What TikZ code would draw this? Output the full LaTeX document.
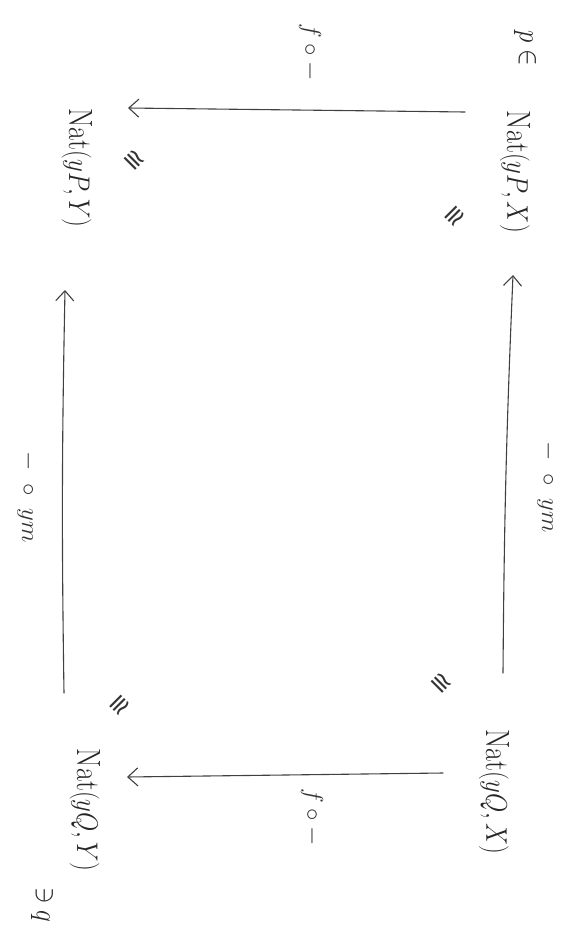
\documentclass[tikz,border=0pt]{standalone}
\usepackage{fontspec}
\usetikzlibrary{arrows.meta,calc}
\newfontfamily\symfont{DejaVu Sans}
\newcommand{\tallmath}[1]{\scalebox{1}[1.2]{$#1$}}
\begin{document}
\begin{tikzpicture}[x=1pt,y=-1pt,
  obj/.style={rotate=-90, inner sep=0pt, font=\fontsize{28}{30}\selectfont, text=black!85},
  lbl/.style={rotate=-90, inner sep=0pt, font=\fontsize{24}{26}\selectfont, text=black!80},
  iso/.style={inner sep=0pt, font=\symfont\fontsize{26}{28}\selectfont, text=black!80},
  arr/.style={draw=black!75, line width=1.1pt, line cap=round,
    -{Straight Barb[length=10pt,width=18pt,line width=1.1pt]}}]
\path[use as bounding box] (0,0) rectangle (571,942);

% the four hom-sets
\node[obj] (PX) at (515,172) {\tallmath{\mathrm{Nat}(yP,X)}};
\node[obj] (QX) at (494,792) {\tallmath{\mathrm{Nat}(yQ,X)}};
\node[obj] (PY) at (77,168)  {\tallmath{\mathrm{Nat}(yP,Y)}};
\node[obj] (QY) at (85,810)  {\tallmath{\mathrm{Nat}(yQ,Y)}};

% elements
\node[obj] (p) at (525,48) {\tallmath{p\in}};
\node[obj] (q) at (42,905) {\tallmath{\ni q}};

% isomorphism marks
\node[iso, rotate=-135] (isoPX) at (454,216) {≅};
\node[iso, rotate=-45]  (isoQX) at (441,684) {≅};
\node[iso, rotate=-45]  (isoPY) at (134,161) {≅};
\node[iso, rotate=-135] (isoQY) at (119,705) {≅};

% connecting maps
\draw[arr] ($(PX)+(-50,-60)$) -- ($(PY)+(51,-60)$);
\draw[arr] ($(QX)+(-51,-19)$) -- ($(QY)+(42,-33)$);
\draw[arr] ($(QX)+(9,-119)$) to[bend left=1] ($(PX)+(-2,103)$);
\draw[arr] ($(QY)+(-21,-117)$) to[bend left=1] ($(PY)+(-12,122)$);

% labels of the maps
\node[lbl] (lf1) at (310,52)  {$f\circ -$};
\node[lbl] (lf2) at (312,817) {$f\circ -$};
\node[lbl] (lm1) at (547,487) {$-\;\circ\; ym$};
\node[lbl] (lm2) at (27,497)  {$-\;\circ\; ym$};
\end{tikzpicture}
\end{document}
